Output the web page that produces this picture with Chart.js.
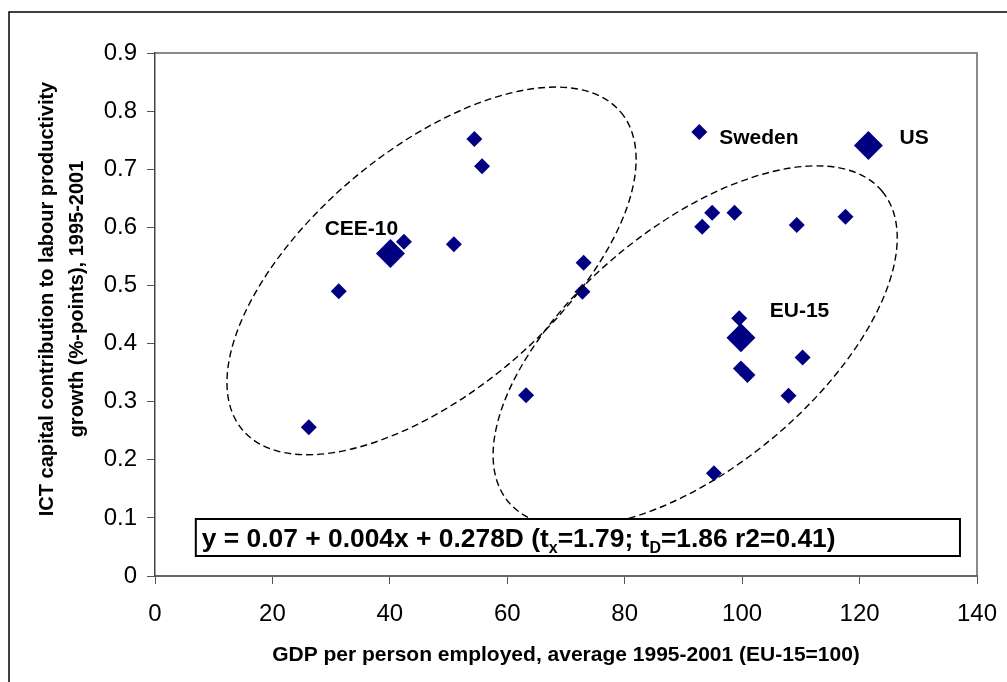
<!DOCTYPE html>
<html>
<head>
<meta charset="utf-8">
<script src="https://cdn.jsdelivr.net/npm/chart.js@4/dist/chart.umd.min.js"></script>
<style>
  body { margin: 0; background: #fff; }
  #wrap { width: 1007px; height: 682px; }
</style>
</head>
<body>
<div id="wrap"><canvas id="chart" width="1007" height="682"></canvas></div>
<script>
// GDP per person employed (EU-15=100) vs ICT capital contribution (%-points)
const countryGdp = [26.2, 31.3, 42.4, 50.9, 54.4, 55.7, 73.0, 72.8, 63.2,
  92.7, 93.2, 94.9, 98.7, 109.3, 117.6, 99.5, 110.3, 99.8, 100.9, 107.9, 95.2];
const countryIct = [0.256, 0.490, 0.575, 0.571, 0.752, 0.705, 0.539, 0.489, 0.311,
  0.764, 0.601, 0.625, 0.625, 0.604, 0.618, 0.4435, 0.376, 0.357, 0.346, 0.310, 0.177];

// aggregates: CEE-10, EU-15, US
const aggGdp = [40.1, 99.8, 121.5];
const aggIct = [0.555, 0.410, 0.741];

const xTicks = [0, 20, 40, 60, 80, 100, 120, 140];
const yTicks = [0, 0.1, 0.2, 0.3, 0.4, 0.5, 0.6, 0.7, 0.8, 0.9];

// text labels (left edge, vertical centre) in data units
const labelText = ["CEE-10", "Sweden", "US", "EU-15"];
const labelX = [28.9, 96.1, 126.8, 104.7];
const labelY = [0.597, 0.754, 0.754, 0.455];

// group ellipses: centre in data units
const ellipseX = [47.1, 92.0];
const ellipseY = [0.525, 0.395];

const FONT = "'Liberation Sans', Arial, sans-serif";
const NAVY = "#000080";

const decor = {
  id: "decor",
  beforeDraw(chart) {
    const c = chart.ctx;
    c.save();
    c.fillStyle = "#fff";
    c.fillRect(0, 0, chart.width, chart.height);
    // outer frame
    c.strokeStyle = "#000";
    c.lineWidth = 1.5;
    c.beginPath();
    c.moveTo(9, 700);
    c.lineTo(9, 12);
    c.lineTo(1010, 12);
    c.stroke();
    // plot area top/right border
    const a = chart.chartArea;
    c.strokeStyle = "#8a8a8a";
    c.lineWidth = 2;
    c.beginPath();
    c.moveTo(a.left, a.top);
    c.lineTo(a.right, a.top);
    c.lineTo(a.right, a.bottom);
    c.stroke();
    c.restore();
  },
  afterDatasetsDraw(chart) {
    const c = chart.ctx;
    const xs = chart.scales.x, ys = chart.scales.y;
    c.save();
    // dashed ellipses
    c.strokeStyle = "#000";
    c.lineWidth = 1.4;
    c.setLineDash([7, 4]);
    const sizes = [[247, 121, -40], [243, 120, -39.7]];
    ellipseX.forEach((ex, i) => {
      c.beginPath();
      c.ellipse(xs.getPixelForValue(ex), ys.getPixelForValue(ellipseY[i]),
        sizes[i][0], sizes[i][1], sizes[i][2] * Math.PI / 180, 0, 2 * Math.PI);
      c.stroke();
    });
    c.setLineDash([]);

    // point labels
    c.fillStyle = "#000";
    c.font = "bold 21px " + FONT;
    c.textBaseline = "middle";
    c.textAlign = "left";
    labelText.forEach((t, i) => {
      c.fillText(t, xs.getPixelForValue(labelX[i]), ys.getPixelForValue(labelY[i]));
    });

    // regression box
    const bx0 = xs.getPixelForValue(6.95), bx1 = xs.getPixelForValue(137.1);
    const by0 = ys.getPixelForValue(0.0981), by1 = ys.getPixelForValue(0.0344);
    c.fillStyle = "#fff";
    c.fillRect(bx0, by0, bx1 - bx0, by1 - by0);
    c.strokeStyle = "#000";
    c.lineWidth = 2;
    c.strokeRect(bx0, by0, bx1 - bx0, by1 - by0);
    const parts = [
      ["y = 0.07 + 0.004x + 0.278D (t", 0],
      ["x", 1],
      ["=1.79; t", 0],
      ["D", 1],
      ["=1.86 r2=0.41)", 0]
    ];
    let px = bx0 + 6;
    const base = (by0 + by1) / 2 + 9;
    c.textBaseline = "alphabetic";
    c.fillStyle = "#000";
    parts.forEach(([s, sub]) => {
      c.font = sub ? "bold 16px " + FONT : "bold 26.4px " + FONT;
      c.fillText(s, px, sub ? base + 6 : base);
      px += c.measureText(s).width;
    });

    // axis titles
    c.font = "bold 20px " + FONT;
    c.textAlign = "center";
    c.textBaseline = "middle";
    c.save();
    c.translate(47, 299);
    c.rotate(-Math.PI / 2);
    c.fillText("ICT capital contribution to labour productivity", 0, 0);
    c.fillText("growth (%-points), 1995-2001", 0, 30);
    c.restore();
    c.font = "bold 21px " + FONT;
    c.fillText("GDP per person employed, average 1995-2001 (EU-15=100)", 566, 655);
    c.restore();
  }
};

new Chart(document.getElementById("chart"), {
  type: "scatter",
  data: {
    datasets: [
      {
        data: countryGdp.map((x, i) => ({ x, y: countryIct[i] })),
        pointStyle: "rectRot",
        pointRadius: 8,
        pointBackgroundColor: NAVY,
        pointBorderColor: NAVY,
        pointBorderWidth: 0
      },
      {
        data: aggGdp.map((x, i) => ({ x, y: aggIct[i] })),
        pointStyle: "rectRot",
        pointRadius: 14.5,
        pointBackgroundColor: NAVY,
        pointBorderColor: NAVY,
        pointBorderWidth: 0
      }
    ]
  },
  options: {
    responsive: false,
    devicePixelRatio: 1,
    animation: false,
    layout: { padding: { top: 53, right: 30, left: 0, bottom: 0 } },
    plugins: { legend: { display: false }, tooltip: { enabled: false } },
    scales: {
      x: {
        type: "linear",
        min: 0, max: 140,
        afterBuildTicks: s => { s.ticks = xTicks.map(v => ({ value: v })); },
        afterFit: s => { s.height = 106; s.paddingLeft = 0; s.paddingRight = 0; },
        grid: { drawOnChartArea: false, tickLength: 8, color: "#555", lineWidth: 1 },
        border: { color: "#666", width: 2 },
        ticks: { color: "#000", padding: 16, font: { family: FONT, size: 24 } }
      },
      y: {
        type: "linear",
        min: 0, max: 0.9,
        afterBuildTicks: s => { s.ticks = yTicks.map(v => ({ value: v })); },
        afterFit: s => { s.width = 155; s.paddingTop = 0; s.paddingBottom = 0; },
        grid: { drawOnChartArea: false, tickLength: 8, color: "#555", lineWidth: 1 },
        border: { color: "#444", width: 1.5 },
        ticks: {
          color: "#000", padding: 10, font: { family: FONT, size: 24 },
          callback: v => (v === 0 ? "0" : v.toFixed(1))
        }
      }
    }
  },
  plugins: [decor]
});
</script>
</body>
</html>
